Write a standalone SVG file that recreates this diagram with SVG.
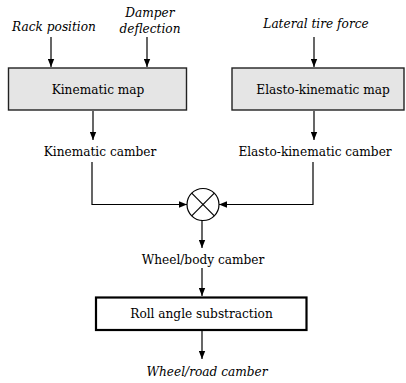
<svg xmlns="http://www.w3.org/2000/svg" width="406" height="383" viewBox="0 0 406 383">
<style>
text{font-family:'DejaVu Serif Condensed','DejaVu Serif',serif;font-stretch:condensed;font-size:13.5px;fill:#000;text-anchor:middle}
.it{font-style:italic}
.map{fill:#e5e5e5;stroke:#222;stroke-width:1.4}
.bold{fill:#fff;stroke:#000;stroke-width:2.2}
.ln{fill:none;stroke:#000;stroke-width:1.2}
</style>
<defs>
<marker id="ah" viewBox="0 0 10 8" refX="10" refY="4" markerWidth="8" markerHeight="7" markerUnits="userSpaceOnUse" orient="auto">
<path d="M0,0 L10,4 L0,8 Z" fill="#000"/>
</marker>
</defs>
<g id="connectors">
<line class="ln" x1="51" y1="37" x2="51" y2="67" marker-end="url(#ah)"/>
<line class="ln" x1="147" y1="37" x2="147" y2="67" marker-end="url(#ah)"/>
<line class="ln" x1="314" y1="37" x2="314" y2="67" marker-end="url(#ah)"/>
<line class="ln" x1="93" y1="111" x2="93" y2="140" marker-end="url(#ah)"/>
<line class="ln" x1="314" y1="111" x2="314" y2="140" marker-end="url(#ah)"/>
<polyline class="ln" points="92,162 92,204.5 187,204.5" marker-end="url(#ah)"/>
<polyline class="ln" points="313,162 313,204.5 219,204.5" marker-end="url(#ah)"/>
<line class="ln" x1="202" y1="220" x2="202" y2="248" marker-end="url(#ah)"/>
<line class="ln" x1="202" y1="268" x2="202" y2="296" marker-end="url(#ah)"/>
<line class="ln" x1="202" y1="331" x2="202" y2="359" marker-end="url(#ah)"/>
</g>
<g id="rack-position"><text class="it" x="54" y="31">Rack position</text></g>
<g id="damper-deflection"><text class="it" x="150" y="17">Damper</text><text class="it" x="150" y="33">deflection</text></g>
<g id="lateral-tire-force"><text class="it" x="316" y="28">Lateral tire force</text></g>
<g id="kinematic-map"><rect class="map" x="8.5" y="68" width="178" height="42"/><text x="98" y="94">Kinematic map</text></g>
<g id="elasto-kinematic-map"><rect class="map" x="232" y="68" width="172" height="42"/><text x="323" y="94">Elasto-kinematic map</text></g>
<g id="kinematic-camber"><text x="100" y="156">Kinematic camber</text></g>
<g id="elasto-kinematic-camber"><text x="315" y="156">Elasto-kinematic camber</text></g>
<g id="multiplier">
<circle class="ln" cx="203" cy="204.5" r="16"/>
<line class="ln" x1="191.7" y1="193.2" x2="214.3" y2="215.8"/>
<line class="ln" x1="214.3" y1="193.2" x2="191.7" y2="215.8"/>
</g>
<g id="wheel-body-camber"><text x="203" y="264">Wheel/body camber</text></g>
<g id="roll-angle-substraction"><rect class="bold" x="96" y="297.5" width="210.5" height="32.5"/><text x="201.5" y="318">Roll angle substraction</text></g>
<g id="wheel-road-camber"><text class="it" x="207" y="376">Wheel/road camber</text></g>
</svg>
